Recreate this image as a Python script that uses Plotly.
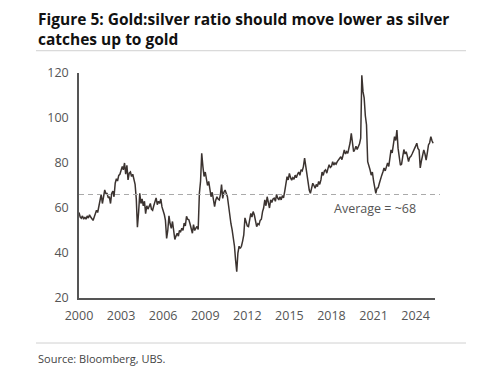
import plotly.graph_objects as go
import pandas as pd

# Gold:silver ratio, monthly readings (Jan..Dec) per year
y2000 = [58, 56, 55.5, 56.5, 55, 56, 55, 56.5, 55.5, 57, 56, 55]
y2001 = [54.5, 56, 57.5, 59, 58, 61, 62.5, 66, 62, 65.5, 68, 66.5]
y2002 = [66.5, 64.5, 65, 62, 66.5, 67.5, 65, 71, 73, 72, 74.5, 75]
y2003 = [76.5, 78.5, 77, 80, 75, 79, 72.5, 75.5, 76, 74, 75, 72]
y2004 = [70.5, 64, 51.5, 58, 66.5, 62, 64, 61, 63, 57.5, 61, 59.5]
y2005 = [61, 62, 59.5, 59, 61, 63, 64.5, 61.5, 63, 62, 64, 60.5]
y2006 = [59, 57, 54.5, 46.5, 50, 56.5, 53, 51, 54, 50, 46, 47.5]
y2007 = [48.8, 47.5, 50, 49.5, 51, 50, 53.3, 52, 56.3, 55, 54.8, 53]
y2008 = [51, 48.8, 52.6, 50, 51, 51.8, 50.5, 66.5, 72, 84.3, 78.4, 74]
y2009 = [76, 73, 70, 71.8, 68, 65, 67, 63, 60.6, 63.5, 65, 64]
y2010 = [63.6, 66, 70.4, 64.3, 67, 68, 66, 65, 61, 56.3, 53, 50.4]
y2011 = [47, 43, 37, 31.7, 40, 43, 42, 43, 45.3, 48, 55.6, 53]
y2012 = [52, 51.7, 54, 57.6, 56, 58.4, 57, 55, 51.7, 53, 52.6, 54.5]
y2013 = [55, 58.4, 60, 63.6, 61, 65, 62, 60, 63.6, 62.5, 64, 64.4]
y2014 = [63, 66, 64.5, 63.6, 65, 63.6, 65.5, 64.5, 67.4, 70, 73.9, 72.5]
y2015 = [75.4, 73.5, 72.4, 73.5, 72.8, 74.6, 73.5, 75, 76, 74.5, 77, 76.5]
y2016 = [78.4, 82.2, 79, 74, 72, 68, 66.5, 68.5, 71, 70, 68.8, 70.5]
y2017 = [69.5, 71.8, 70.5, 72.5, 76, 74.5, 76.5, 77, 75.5, 77.5, 79.2, 78]
y2018 = [78.5, 80.6, 79.1, 80, 79.5, 80.6, 81.5, 82, 82.8, 81.5, 84, 85.8]
y2019 = [84, 85, 84.3, 86.5, 89, 93.2, 88, 85, 86, 87.4, 86, 87.4]
y2020 = [88.5, 91, 119, 111.7, 109, 101, 97, 80.6, 79, 77, 74.6, 76]
y2021 = [72, 68, 66.5, 68.8, 69, 71, 73.3, 74.5, 76, 77.8, 76.5, 79]
y2022 = [80, 78.5, 82, 85.8, 84.5, 88, 91.7, 90, 94.6, 86.6, 83, 79]
y2023 = [79.5, 83.5, 86, 84, 85, 83, 80.6, 82.5, 83, 84, 85, 86.5]
y2024 = [87.5, 88.8, 86.5, 85.8, 77.8, 81, 83.5, 85.8, 84, 81.3, 84.5, 88]
y2025 = [89, 91.7, 90, 88.8]

ratio = (y2000 + y2001 + y2002 + y2003 + y2004 + y2005 + y2006 + y2007 + y2008
         + y2009 + y2010 + y2011 + y2012 + y2013 + y2014 + y2015 + y2016 + y2017
         + y2018 + y2019 + y2020 + y2021 + y2022 + y2023 + y2024 + y2025)
dates = pd.date_range("2000-01-01", periods=len(ratio), freq="MS")

average_level = 66
average_label = "Average = ~68"
x_tick_vals = [f"{y}-01-01" for y in range(2000, 2025, 3)]
x_tick_text = [str(y) for y in range(2000, 2025, 3)]
y_tick_vals = [20, 40, 60, 80, 100, 120]

title_line1 = "Figure 5: Gold:silver ratio should move lower as silver"
title_line2 = "catches up to gold"
source_text = "Source: Bloomberg, UBS."

fig = go.Figure()
fig.add_trace(go.Scatter(
    x=dates, y=ratio, mode="lines",
    line=dict(color="#3b3330", width=1.5),
    hoverinfo="skip", showlegend=False,
))

font_family = "Open Sans, Noto Sans, sans-serif"
title_font = dict(family=font_family, size=15.5, color="#111111", weight="bold")

fig.update_layout(
    width=478, height=382,
    margin=dict(l=71, r=51, t=65, b=92),
    paper_bgcolor="white", plot_bgcolor="white",
    font=dict(family=font_family, color="#555555", size=12),
    xaxis=dict(
        range=["2000-01-01", "2025-05-20"],
        tickvals=x_tick_vals, ticktext=x_tick_text,
        showgrid=False, zeroline=False,
        showline=True, linecolor="#555555", linewidth=1.5,
        ticks="", tickfont=dict(size=12.5, color="#555555"),
        ticklabelstandoff=5,
    ),
    yaxis=dict(
        range=[20, 120], tickvals=y_tick_vals,
        showgrid=False, zeroline=False,
        showline=True, linecolor="#555555", linewidth=1.5,
        ticks="", tickfont=dict(size=12.5, color="#555555"),
        ticklabelstandoff=6,
    ),
    shapes=[
        dict(type="line", xref="paper", yref="y", x0=0, x1=1.014,
             y0=average_level, y1=average_level,
             line=dict(color="#aaaaaa", width=1.2, dash="5px,4px")),
        dict(type="line", xref="paper", yref="paper", x0=-0.1208, x1=1.0871,
             y0=1.099, y1=1.099, line=dict(color="#d0d0d0", width=1)),
        dict(type="line", xref="paper", yref="paper", x0=-0.1208, x1=1.0871,
             y0=-0.2, y1=-0.2, line=dict(color="#d0d0d0", width=1)),
    ],
    annotations=[
        dict(text=title_line1, xref="paper", yref="paper", x=-0.1208, y=1.24,
             xanchor="left", yanchor="middle", showarrow=False, align="left",
             font=title_font),
        dict(text=title_line2, xref="paper", yref="paper", x=-0.1208, y=1.1489,
             xanchor="left", yanchor="middle", showarrow=False, align="left",
             font=title_font),
        dict(text=average_label, xref="x", yref="y", x="2021-02-15", y=60,
             xanchor="center", yanchor="middle", showarrow=False,
             font=dict(size=12.5, color="#555555")),
        dict(text=source_text, xref="paper", yref="paper", x=-0.1208, y=-0.2667,
             xanchor="left", yanchor="middle", showarrow=False,
             font=dict(size=11, color="#444444")),
    ],
)

fig.write_html("out.html")
